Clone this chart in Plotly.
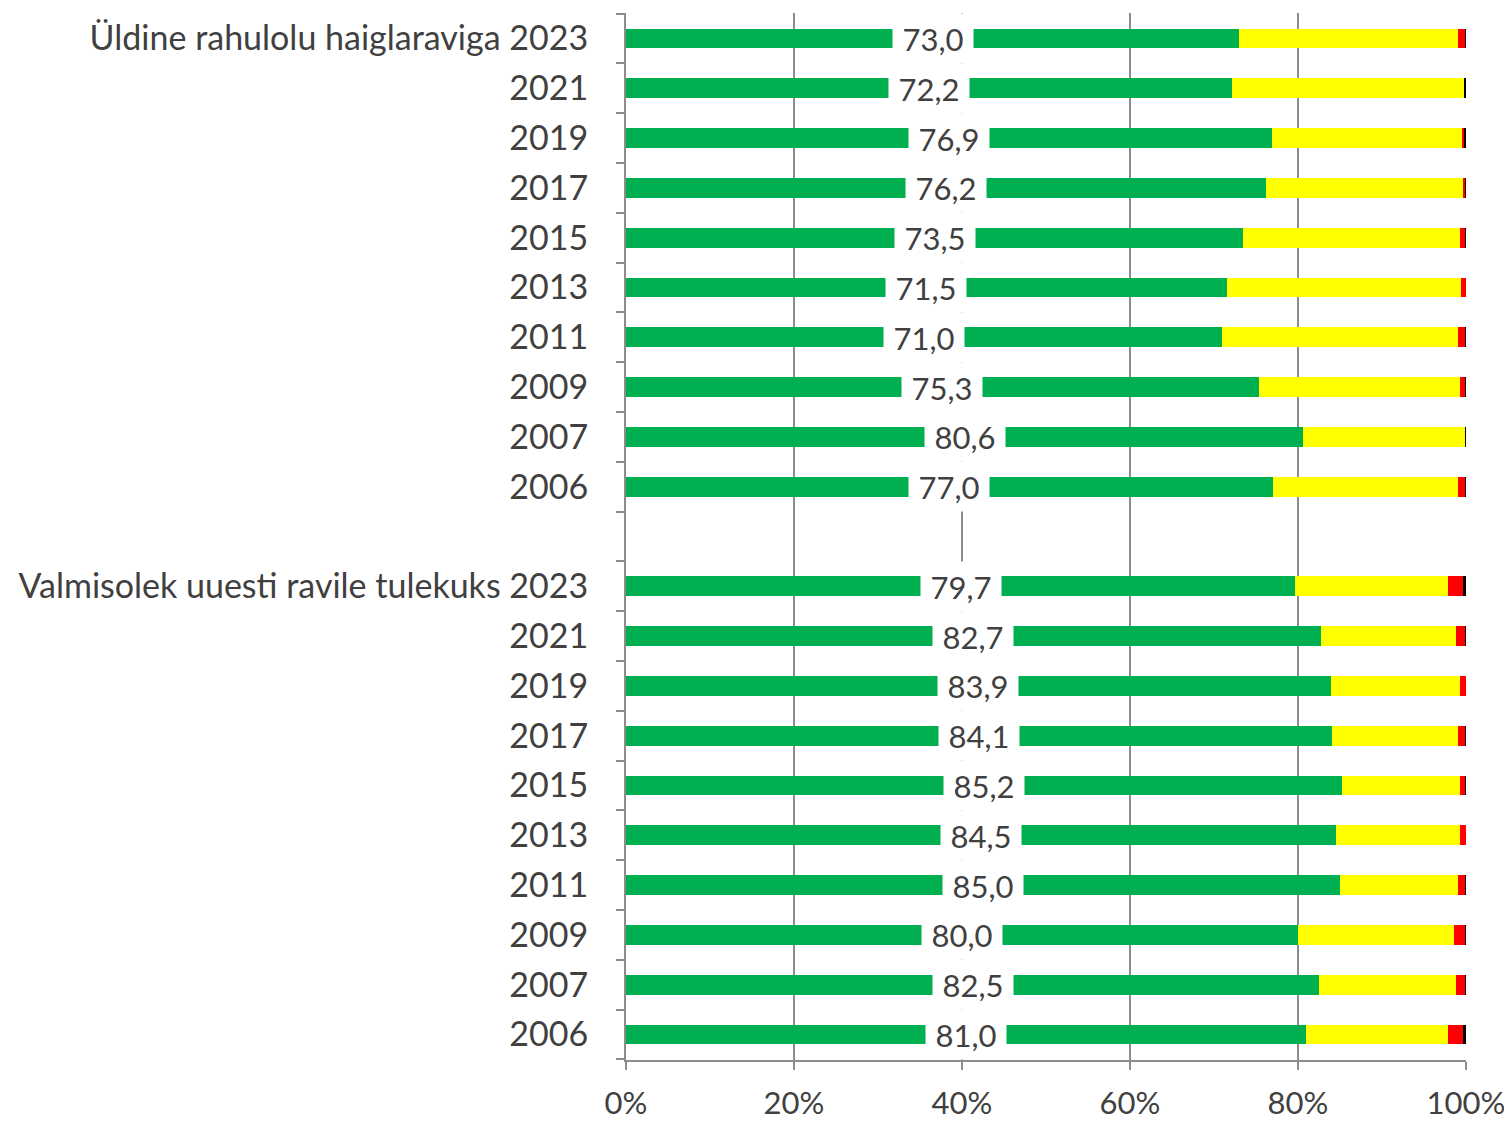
import plotly.graph_objects as go

# ---- data (top to bottom) ----
row_labels = ["Üldine rahulolu haiglaraviga 2023", "2021", "2019", "2017", "2015", "2013",
              "2011", "2009", "2007", "2006", "",
              "Valmisolek uuesti ravile tulekuks 2023", "2021", "2019", "2017", "2015",
              "2013", "2011", "2009", "2007", "2006"]
green = [73.0, 72.2, 76.9, 76.2, 73.5, 71.5, 71.0, 75.3, 80.6, 77.0, None,
         79.7, 82.7, 83.9, 84.1, 85.2, 84.5, 85.0, 80.0, 82.5, 81.0]
yellow = [26.1, 27.6, 22.7, 23.4, 25.8, 27.9, 28.0, 24.0, 19.3, 22.0, None,
          18.2, 16.1, 15.4, 14.9, 14.1, 14.8, 14.0, 18.6, 16.3, 16.9]
red = [0.8, 0.0, 0.2, 0.3, 0.6, 0.6, 0.9, 0.6, 0.0, 0.9, None,
       1.8, 1.1, 0.7, 0.9, 0.6, 0.7, 0.9, 1.3, 1.1, 1.8]
black = [0.1, 0.2, 0.2, 0.1, 0.1, 0.0, 0.1, 0.1, 0.1, 0.1, None,
         0.3, 0.1, 0.0, 0.1, 0.1, 0.0, 0.1, 0.1, 0.1, 0.3]
x_ticks = [0, 20, 40, 60, 80, 100]

ids = [f"r{i}" for i in range(len(row_labels))]

FONT = "Lato"
TXT = "#404040"
GRID = "#8c8c8c"

fig = go.Figure()
for vals, col in [(green, "#00B050"), (yellow, "#FFFF00"), (red, "#FF0000"), (black, "#000000")]:
    fig.add_trace(go.Bar(y=ids, x=vals, orientation="h", marker=dict(color=col, line=dict(width=0)),
                         showlegend=False, hoverinfo="skip"))

for yid, g in zip(ids, green):
    if g is None:
        continue
    fig.add_annotation(x=g / 2, y=yid, xref="x", yref="y", text=f"{g:.1f}".replace(".", ","),
                       showarrow=False, bgcolor="white", borderpad=0, width=80, height=49,
                       align="center", valign="middle",
                       font=dict(family=FONT, size=31, color=TXT))

fig.update_layout(
    width=1504, height=1113,
    margin=dict(l=618, r=46, t=5, b=61),
    barmode="stack", bargap=0.6,
    plot_bgcolor="white", paper_bgcolor="white",
    font=dict(family=FONT, size=34, color=TXT),
    xaxis=dict(range=[0, 100], tickvals=x_ticks, ticktext=[f"{v}%" for v in x_ticks],
               tickfont=dict(size=31),
               showgrid=True, gridcolor=GRID, gridwidth=2,
               showline=True, linecolor=GRID, linewidth=2,
               ticks="outside", ticklen=8, tickcolor=GRID, tickwidth=2,
               ticklabelstandoff=7, zeroline=False, fixedrange=True, automargin=False),
    yaxis=dict(type="category", categoryorder="array", categoryarray=ids,
               autorange="reversed", tickmode="array", tickvals=ids, ticktext=row_labels,
               tickson="boundaries", ticks="outside", ticklen=8, tickcolor=GRID, tickwidth=2,
               showline=True, linecolor=GRID, linewidth=2, showgrid=False,
               ticklabelstandoff=29, fixedrange=True, automargin=False),
)

fig.write_html("out.html")
